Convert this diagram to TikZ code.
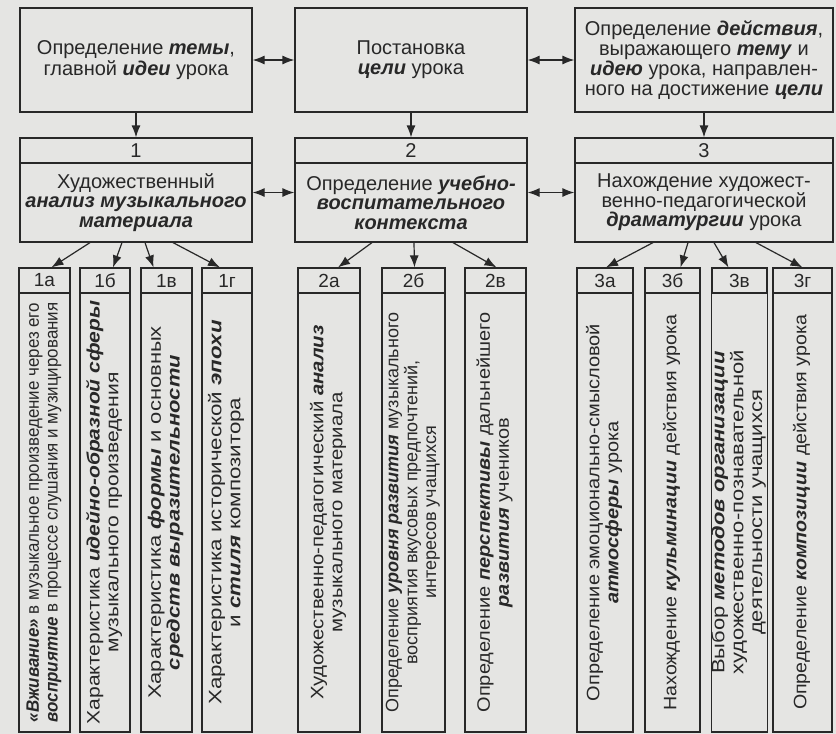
\documentclass[tikz,border=0pt]{standalone}
\usepackage{fontspec}
\setmainfont{Liberation Sans}
\usepackage{graphicx}
\usepackage{tikz}
\usetikzlibrary{
	arrows.meta,
	calc
}
\definecolor{PaperGray}{RGB}{229,229,227}
\definecolor{InkGray}{RGB}{40,40,40}
\newcommand{\kw}[1]{\textbf{\textit{#1}}}
\newcommand{\vlines}[2]{\scalebox{#1}[1]{\begin{tabular}{@{}c@{}}#2\end{tabular}}}

\begin{document}
\begin{tikzpicture}[x=1pt, y=-1pt, color=InkGray, line width=1.2pt,
	topbox/.style={draw, align=center, inner sep=0pt, minimum height=104pt, font=\fontsize{20}{20.3}\selectfont},
	headbox/.style={draw, inner sep=0pt, minimum height=25pt, font=\fontsize{20}{20}\selectfont},
	midbox/.style={draw, align=center, inner sep=0pt, minimum height=79pt, font=\fontsize{20}{19.5}\selectfont},
	subhead/.style={draw, inner sep=0pt, minimum height=25pt, font=\fontsize{19}{19}\selectfont},
	subbody/.style={draw, rotate=90, align=center, inner sep=0pt, minimum width=439pt, font=\fontsize{18}{18.8}\selectfont},
	arr/.style={-{Latex[length=12pt,width=9pt]}},
	dblarr/.style={{Latex[length=12pt,width=9pt]}-{Latex[length=12pt,width=9pt]}}
	]
			\fill[PaperGray] (0,0) rectangle (836,734);
			\useasboundingbox (0,0) rectangle (836,734);
			% top row
			\node[topbox, minimum width=232pt] (t1) at (136,60) {Определение \kw{темы},\\главной \kw{идеи} урока};
			\node[topbox, minimum width=232pt] (t2) at (411,60) {Постановка\\\kw{цели} урока};
			\node[topbox, minimum width=258pt] (t3) at (704,60) {Определение \kw{действия},\\выражающего \kw{тему} и\\\kw{идею} урока, направлен-\\ного на достижение \kw{цели}};
			% middle row
			\node[headbox, minimum width=232pt] (h1) at (136,150.5) {1};
			\node[headbox, minimum width=232pt] (h2) at (411,150.5) {2};
			\node[headbox, minimum width=258pt] (h3) at (704,150.5) {3};
			\node[midbox, minimum width=232pt] (b1) at (136,202.5) {Художественный\\\kw{анализ музыкального}\\\kw{материала}};
			\node[midbox, minimum width=232pt] (b2) at (411,202.5) {Определение \kw{учебно-}\\\kw{воспитательного}\\\kw{контекста}};
			\node[midbox, minimum width=258pt] (b3) at (704,202.5) {Нахождение художест-\\венно-педагогической\\\kw{драматургии} урока};
			% bottom row, group 1
			\node[subhead, minimum width=51pt] (h1a) at (44.5,280.5) {1а};
			\node[subhead, minimum width=50pt] (h1b) at (105,280.5) {1б};
			\node[subhead, minimum width=51pt] (h1v) at (166.5,280.5) {1в};
			\node[subhead, minimum width=50pt] (h1g) at (227,280.5) {1г};
			\node[subbody, minimum height=51pt] (s1a) at (44.5,512.5) {\vlines{0.94}{\kw{«Вживание»} в музыкальное произведение через его\\\kw{восприятие} в процессе слушания и музицирования}};
			\node[subbody, minimum height=50pt] (s1b) at (105,512.5) {\vlines{1.17}{Характеристика \kw{идейно-образной сферы}\\музыкального произведения}};
			\node[subbody, minimum height=51pt] (s1v) at (166.5,512.5) {\vlines{1.22}{Характеристика \kw{формы} и основных\\\kw{средств выразительности}}};
			\node[subbody, minimum height=50pt] (s1g) at (227,512.5) {\vlines{1.24}{Характеристика исторической \kw{эпохи}\\и \kw{стиля} композитора}};
			% bottom row, group 2
			\node[subhead, minimum width=62pt] (h2a) at (329,280.5) {2а};
			\node[subhead, minimum width=63pt] (h2b) at (413.5,280.5) {2б};
			\node[subhead, minimum width=61pt] (h2v) at (495.5,280.5) {2в};
			\node[subbody, minimum height=62pt] (s2a) at (329,512.5) {\vlines{1.13}{Художественно-педагогический \kw{анализ}\\музыкального материала}};
			\node[subbody, minimum height=63pt] (s2b) at (413.5,512.5) {\vlines{1.0}{Определение \kw{уровня развития} музыкального\\восприятия вкусовых предпочтений,\\интересов учащихся}};
			\node[subbody, minimum height=61pt] (s2v) at (495.5,512.5) {\vlines{1.11}{Определение \kw{перспективы} дальнейшего\\\kw{развития} учеников}};
			% bottom row, group 3
			\node[subhead, minimum width=56pt] (h3a) at (605,280.5) {3а};
			\node[subhead, minimum width=55pt] (h3b) at (672.5,280.5) {3б};
			\node[subhead, minimum width=55pt] (h3v) at (739.5,280.5) {3в};
			\node[subhead, minimum width=59pt] (h3g) at (802.5,280.5) {3г};
			\node[subbody, minimum height=56pt] (s3a) at (605,512.5) {\vlines{1.11}{Определение эмоционально-смысловой\\\kw{атмосферы} урока}};
			\node[subbody, minimum height=55pt] (s3b) at (672.5,512.5) {\vlines{1.09}{Нахождение \kw{кульминации} действия урока}};
			\node[subbody, minimum height=55pt] (s3v) at (739.5,512.5) {\vlines{1.22}{Выбор \kw{методов организации}\\художественно-познавательной\\деятельности учащихся}};
			\node[subbody, minimum height=59pt] (s3g) at (802.5,512.5) {\vlines{1.09}{Определение \kw{композиции} действия урока}};
			% links
			\draw[dblarr] (t1) -- (t2);
			\draw[dblarr] (t2) -- (t3);
			\draw[dblarr] ([yshift=10pt]b1.east) -- ([yshift=10pt]b2.west);
			\draw[dblarr] ([yshift=10pt]b2.east) -- ([yshift=10pt]b3.west);
			\draw[arr] (t1) -- (h1);
			\draw[arr] (t2) -- (h2);
			\draw[arr] (t3) -- (h3);
			\draw[arr] ([xshift=-46pt]b1.south) -- ([xshift=7pt]h1a.north);
			\draw[arr] ([xshift=-14pt]b1.south) -- ([xshift=8pt]h1b.north);
			\draw[arr] ([xshift=9pt]b1.south) -- ([xshift=-13pt]h1v.north);
			\draw[arr] ([xshift=37pt]b1.south) -- ([xshift=-7pt]h1g.north);
			\draw[arr] ([xshift=-39pt]b2.south) -- ([xshift=9pt]h2a.north);
			\draw[arr] ([xshift=3pt]b2.south) -- ([xshift=1pt]h2b.north);
			\draw[arr] ([xshift=42pt]b2.south) -- ([xshift=1pt]h2v.north);
			\draw[arr] ([xshift=-51pt]b3.south) -- ([xshift=1pt]h3a.north);
			\draw[arr] ([xshift=-16pt]b3.south) -- ([xshift=8pt]h3b.north);
			\draw[arr] ([xshift=10pt]b3.south) -- ([xshift=-11pt]h3v.north);
			\draw[arr] ([xshift=52pt]b3.south) -- (h3g.north);
		\end{tikzpicture}
\end{document}
